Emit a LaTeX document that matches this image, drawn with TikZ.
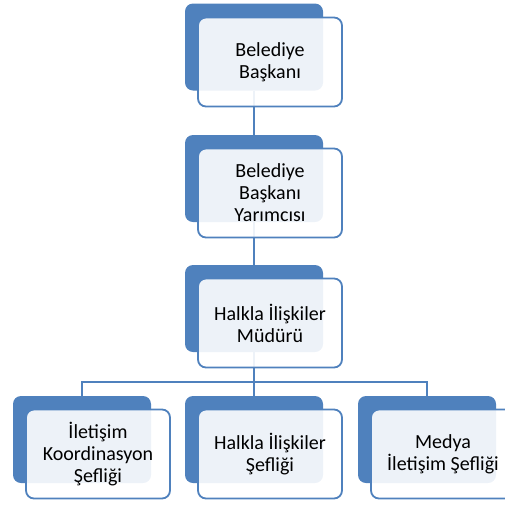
\documentclass[tikz,border=0pt]{standalone}
\usepackage{fontspec}
\setmainfont{Carlito}
\usetikzlibrary{positioning}
\definecolor{officeblue}{RGB}{79,129,189}

\tikzset{
  backbox/.style={fill=officeblue,rounded corners=8pt,minimum width=138pt,
    minimum height=87pt,inner sep=0pt},
  frontbox/.style={draw=officeblue,line width=1.8pt,fill=white,fill opacity=0.9,
    text opacity=1,rounded corners=8pt,minimum width=144pt,minimum height=89pt,
    inner sep=0pt,align=center,font=\fontsize{20}{22}\selectfont},
  link/.style={draw=officeblue,line width=2pt}
}

\begin{document}
\begin{tikzpicture}[x=1pt,y=-1pt]
    \useasboundingbox (0,0) rectangle (505,504);
    % back boxes
    \node[backbox] (baskan) at (254,47) {};
    \node[backbox] (yardimci) at (254,178.5) {};
    \node[backbox] (mudur) at (254,308.5) {};
    \node[backbox] (koord) at (82,439.5) {};
    \node[backbox] (halkla) at (254,439.5) {};
    \node[backbox] (medya) at (427,439.5) {};
    % connectors
    \coordinate (bus) at (254,382);
    \draw[link] (baskan.south) -- (yardimci.north);
    \draw[link] (yardimci.south) -- (mudur.north);
    \draw[link] (mudur.south) -- (bus);
    \draw[link] (koord.north) |- (bus) -| (medya.north);
    \draw[link] (bus) -- (halkla.north);
    % front boxes
    \node[frontbox] (baskanT) at (270,62) {Belediye\\Başkanı};
    \node[frontbox] (yardimciT) at (270,193) {Belediye\\Başkanı\\Yarımcısı};
    \node[frontbox] (mudurT) at (270,323) {Halkla İlişkiler\\Müdürü};
    \node[frontbox] (koordT) at (98,454) {İletişim\\Koordinasyon\\Şefliği};
    \node[frontbox] (halklaT) at (270,454) {Halkla İlişkiler\\Şefliği};
    \node[frontbox] (medyaT) at (443,454) {Medya\\İletişim Şefliği};
\end{tikzpicture}
\end{document}
